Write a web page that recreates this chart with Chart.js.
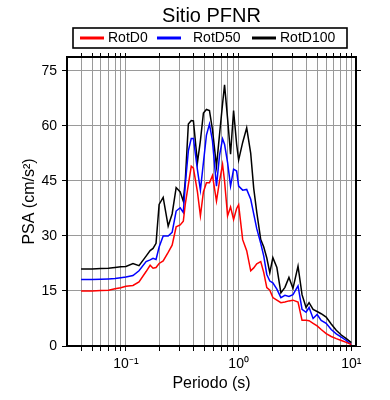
<!DOCTYPE html>
<html><head><meta charset="utf-8">
<script src="https://cdn.jsdelivr.net/npm/chart.js@4/dist/chart.umd.min.js"></script>
<style>html,body{margin:0;padding:0;background:#fff}canvas{display:block}</style>
</head><body>
<canvas id="c" width="390" height="400"></canvas>
<script>
const chartTitle = 'Sitio PFNR';
const xTitle = 'Periodo (s)';
const yTitle = 'PSA (cm/s²)';
const seriesNames = ['RotD0', 'RotD50', 'RotD100'];
const periods = [0.04,0.05,0.06,0.07,0.08,0.09,0.1,0.1155,0.1306,0.151,0.164,0.174,0.185,0.197,0.214,0.237,0.257,0.279,0.303,0.323,0.336,0.358,0.380,0.397,0.431,0.458,0.487,0.518,0.551,0.586,0.636,0.677,0.720,0.750,0.798,0.848,0.902,0.960,1.0,1.086,1.179,1.280,1.361,1.448,1.571,1.671,1.778,1.891,2.012,2.184,2.371,2.575,2.795,3.035,3.365,3.652,3.965,4.217,4.579,4.97,5.40,5.98,6.63,7.35,8.15,9.02,10];
const rotD0 = [15.0,15.0,15.1,15.2,15.6,15.9,16.3, 16.5,17.5, 20.3,22.0,21.2,21.4,22.5, 23.2,25.5,27.5,32.5,33.0, 34.0,38.6,44.0,49.0,48.5, 42.0,35.5,42.0,44.5,44.5, 46.5,39.5,45.0,49.5,45.0, 35.5,37.9,34.5,37.5,38.5, 29.0,26.0,20.5,21.3,22.4, 23.0,20.0,15.9,15.2,13.2, 12.5,11.8,12.0,12.3,12.5, 12.0,7.0,7.0,6.9,6.2, 5.5,4.5,3.4,2.6,2.0, 1.5,1.0,0.4];
const rotD50 = [18.1,18.1,18.2,18.3,18.4,18.6,18.8, 19.2,20.5, 23.0,23.5,23.9,23.6,27.0, 30.0,30.0,31.0,36.8,37.7, 36.4,44.0,53.2,56.6,56.6, 48.0,42.5,50.0,57.5,60.5, 55.9,43.6,52.0,56.5,55.0, 50.0,43.6,48.2,47.7,43.6, 42.5,42.7,40.0,36.0,32.0, 28.0,24.5,19.5,17.7,17.2, 15.5,13.2,13.8,13.5,14.0, 16.4,10.0,9.2,10.5,7.5, 8.6,7.0,6.2,4.5,3.3, 2.4,1.5,0.4];
const rotD100 = [21.0,21.0,21.1,21.2,21.4,21.6,21.7, 22.5,21.9, 24.5,26.0,26.6,28.0,38.6, 40.5,32.7,36.0,43.2,42.0, 39.5,45.0,60.5,61.5,61.4, 50.0,56.0,63.5,64.5,64.2, 59.0,49.0,57.7,66.0,71.2, 62.0,52.3,64.2,55.0,50.7, 55.5,59.5,52.5,43.0,36.5, 29.0,27.0,24.0,20.0,24.1, 21.4,14.5,16.0,18.7,15.7, 21.8,14.0,10.5,11.8,10.0, 9.4,8.8,7.9,6.0,4.3, 3.0,2.0,0.9];
const xTickValues = [0.04,0.05,0.06,0.07,0.08,0.09,0.1,0.2,0.3,0.4,0.5,0.6,0.7,0.8,0.9,1,2,3,4,5,6,7,8,9,10];
const xTickLabels = {0.1: '10⁻¹', 1: '10⁰', 10: '10¹'};
const yTickValues = [0, 15, 30, 45, 60, 75];
const xRange = [0.03, 11];
const yRange = [0, 78.8];
const colors = ['#ff0000', '#0000ff', '#000000'];

const FONT = "'Liberation Sans', Arial, Helvetica, sans-serif";
const GRID = '#9a9a9a';

const setXTicks = (scale) => { scale.ticks = xTickValues.map(v => ({value: v, major: false})); };
const setYTicks = (scale) => { scale.ticks = yTickValues.map(v => ({value: v})); };

const legendPlugin = {
  id: 'boxLegend',
  afterDraw(chart) {
    const ctx = chart.ctx;
    ctx.save();
    const box = {l: 73, t: 28, r: 347, b: 48};
    ctx.strokeStyle = '#000';
    ctx.lineWidth = 1.6;
    ctx.strokeRect(box.l, box.t, box.r - box.l, box.b - box.t);
    const cy = (box.t + box.b) / 2;
    const starts = [80, 157, 252];
    ctx.font = '14px ' + FONT;
    ctx.textBaseline = 'middle';
    chart.data.datasets.forEach((ds, i) => {
      ctx.strokeStyle = ds.borderColor;
      ctx.lineWidth = 3;
      ctx.beginPath();
      ctx.moveTo(starts[i], cy);
      ctx.lineTo(starts[i] + 24, cy);
      ctx.stroke();
      ctx.fillStyle = '#000';
      ctx.fillText(ds.label, starts[i] + 28 + (i === 1 ? 8 : 0), cy + 0.5);
    });
    ctx.restore();
  }
};

new Chart(document.getElementById('c'), {
  type: 'line',
  data: {
    datasets: [rotD0, rotD50, rotD100].map((vals, i) => ({
      label: seriesNames[i],
      data: periods.map((p, j) => ({x: p, y: vals[j]})),
      borderColor: colors[i],
      backgroundColor: colors[i],
      borderWidth: 1.5,
      pointRadius: 0,
      tension: 0,
      fill: false
    }))
  },
  options: {
    responsive: false,
    animation: false,
    devicePixelRatio: 1,
    layout: {padding: 0},
    plugins: {
      legend: {display: false},
      tooltip: {enabled: false},
      title: {
        display: true,
        fullSize: false,
        text: chartTitle,
        color: '#000',
        font: {family: FONT, size: 20, weight: 'normal'},
        padding: {top: 4, bottom: 0}
      }
    },
    scales: {
      x: {
        type: 'logarithmic', position: 'bottom', min: xRange[0], max: xRange[1],
        afterBuildTicks: setXTicks,
        afterFit: (s) => { s.height = 54; },
        grid: {color: GRID, lineWidth: 1, tickColor: '#000', tickLength: 5, tickWidth: 1},
        border: {display: true, color: '#000', width: 2},
        ticks: {autoSkip: false, maxRotation: 0, minRotation: 0, padding: 5, color: '#000',
          font: {family: FONT, size: 14},
          callback: (v) => xTickLabels[v] || ''},
        title: {display: true, text: xTitle, color: '#000', font: {family: FONT, size: 16}, padding: {top: 0, bottom: 7}}
      },
      x2: {
        type: 'logarithmic', position: 'top', display: true, min: xRange[0], max: xRange[1],
        afterBuildTicks: setXTicks,
        afterFit: (s) => { s.height = 57 - 28; },
        grid: {drawOnChartArea: false, color: GRID, tickColor: '#000', tickLength: 4, tickWidth: 1},
        border: {display: true, color: '#000', width: 2},
        ticks: {display: false, autoSkip: false}
      },
      y: {
        type: 'linear', position: 'left', min: yRange[0], max: yRange[1],
        afterBuildTicks: setYTicks,
        afterFit: (s) => { s.width = 67; },
        grid: {color: GRID, lineWidth: 1, tickColor: '#000', tickLength: 5, tickWidth: 1},
        border: {display: true, color: '#000', width: 2},
        ticks: {padding: 5, color: '#000', font: {family: FONT, size: 14}},
        title: {display: true, text: yTitle, color: '#000', font: {family: FONT, size: 16}, padding: {top: 20, bottom: 0}}
      },
      y2: {
        type: 'linear', position: 'right', display: true, min: yRange[0], max: yRange[1],
        afterBuildTicks: setYTicks,
        afterFit: (s) => { s.width = 34; },
        grid: {drawOnChartArea: false, color: GRID, tickColor: '#000', tickLength: 5, tickWidth: 1},
        border: {display: true, color: '#000', width: 2},
        ticks: {display: false}
      }
    }
  },
  plugins: [legendPlugin]
});
</script>
</body></html>
